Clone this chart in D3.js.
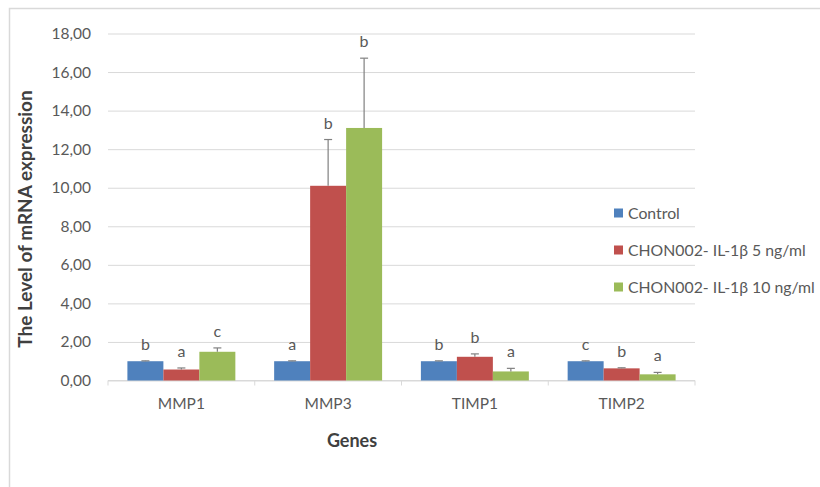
<!DOCTYPE html>
<html>
<head>
<meta charset="utf-8">
<script src="https://cdn.jsdelivr.net/npm/d3@7"></script>
<style>
  body { margin: 0; background: #fff; }
  text { font-family: Lato, "Open Sans", sans-serif; }
</style>
</head>
<body>
<svg width="820" height="487"></svg>
<script>
// data
const genes = ["MMP1", "MMP3", "TIMP1", "TIMP2"];
const seriesNames = ["Control", "CHON002- IL-1\u03b2 5 ng/ml", "CHON002- IL-1\u03b2 10 ng/ml"];
const seriesColors = ["#4f81bd", "#c0504d", "#9bbb59"];
const controlVals = [1.00, 1.00, 1.00, 1.00];
const il5Vals = [0.57, 10.10, 1.23, 0.63];
const il10Vals = [1.49, 13.10, 0.47, 0.32];
const controlErr = [0.02, 0.02, 0.02, 0.02];
const il5Err = [0.08, 2.40, 0.15, 0.03];
const il10Err = [0.20, 3.62, 0.16, 0.10];
const controlLetters = ["b", "a", "b", "c"];
const il5Letters = ["a", "b", "b", "b"];
const il10Letters = ["c", "b", "a", "a"];
const yTicks = [0, 2, 4, 6, 8, 10, 12, 14, 16, 18];

let svg = d3.select("svg");

// outer chart border, cut off at right and bottom
svg.append("path")
    .attr("d", "M9.5,490 V8.5 H825")
    .attr("fill", "none")
    .attr("stroke", "#d9d9d9")
    .attr("stroke-width", 1.5);

let plotL = 108, plotR = 695, plotT = 33.5, plotB = 380.5;

let x = d3.scaleBand().domain(genes).range([plotL, plotR]).paddingInner(0).paddingOuter(0);
let inner = d3.scaleBand().domain([0, 1, 2]).range([19.4, x.bandwidth() - 19.4]);
let y = d3.scaleLinear().domain([0, 18]).range([plotB, plotT]);

let fmt = d => d.toFixed(2).replace(".", ",");

// gridlines + y labels
let yAxis = svg.append("g")
    .attr("transform", `translate(${plotL},0)`)
    .call(d3.axisLeft(y).tickValues(yTicks).tickSize(-(plotR - plotL)).tickFormat(fmt).tickPadding(17));
yAxis.select(".domain").remove();
yAxis.selectAll(".tick line").attr("stroke", "#d9d9d9");
yAxis.selectAll(".tick text")
    .attr("fill", "#595959")
    .style("font-size", "15.5px");

// category axis
let xAxis = svg.append("g")
    .attr("transform", `translate(0,${plotB})`)
    .call(d3.axisBottom(x).tickSize(0).tickPadding(17));
xAxis.select(".domain").attr("stroke", "#d9d9d9").attr("d", `M${plotL},0H${plotR}`);
xAxis.selectAll(".tick text").attr("fill", "#595959").style("font-size", "15.5px");
xAxis.selectAll(".sep")
    .data(genes.map((g, i) => i).concat([genes.length]))
    .enter().append("line")
    .attr("x1", i => plotL + i * x.bandwidth())
    .attr("x2", i => plotL + i * x.bandwidth())
    .attr("y1", 0).attr("y2", 5)
    .attr("stroke", "#d9d9d9");

let allVals = [controlVals, il5Vals, il10Vals];
let allErr = [controlErr, il5Err, il10Err];
let allLetters = [controlLetters, il5Letters, il10Letters];

let bars = [];
genes.forEach((g, gi) => {
    allVals.forEach((vals, si) => {
        bars.push({gene: g, s: si, v: vals[gi], e: allErr[si][gi], letter: allLetters[si][gi]});
    });
});

let cx = d => x(d.gene) + inner(d.s) + inner.bandwidth() / 2;

svg.append("g").selectAll("rect")
    .data(bars)
    .enter().append("rect")
    .attr("x", d => x(d.gene) + inner(d.s))
    .attr("width", inner.bandwidth())
    .attr("y", d => y(d.v))
    .attr("height", d => y(0) - y(d.v))
    .attr("fill", d => seriesColors[d.s]);

// error bars (upper only)
let err = svg.append("g").attr("stroke", "#808080").attr("stroke-width", 1.2);
err.selectAll(".stem")
    .data(bars)
    .enter().append("line")
    .attr("x1", cx).attr("x2", cx)
    .attr("y1", d => y(d.v))
    .attr("y2", d => y(d.v + d.e));
err.selectAll(".cap")
    .data(bars)
    .enter().append("line")
    .attr("x1", d => cx(d) - 4).attr("x2", d => cx(d) + 4)
    .attr("y1", d => y(d.v + d.e))
    .attr("y2", d => y(d.v + d.e));

// significance letters
svg.append("g").selectAll("text")
    .data(bars)
    .enter().append("text")
    .attr("x", cx)
    .attr("y", d => y(d.v + d.e) - 11)
    .attr("text-anchor", "middle")
    .attr("fill", "#595959")
    .style("font-size", "16px")
    .text(d => d.letter);

// axis titles
svg.append("text")
    .attr("transform", "translate(32,219) rotate(-90)")
    .attr("text-anchor", "middle")
    .attr("fill", "#404040")
    .style("font-size", "19px")
    .style("font-weight", "bold")
    .text("The Level of mRNA expression");

svg.append("text")
    .attr("x", 352)
    .attr("y", 447)
    .attr("text-anchor", "middle")
    .attr("fill", "#404040")
    .style("font-size", "18px")
    .style("font-weight", "bold")
    .text("Genes");

// legend
let legend = svg.append("g").selectAll("g")
    .data(seriesNames)
    .enter().append("g")
    .attr("transform", (d, i) => `translate(614,${213 + i * 37})`);
legend.append("rect")
    .attr("x", 0).attr("y", -4.5)
    .attr("width", 9).attr("height", 9)
    .attr("fill", (d, i) => seriesColors[i]);
legend.append("text")
    .attr("x", 14).attr("y", 5.5)
    .attr("fill", "#595959")
    .style("font-size", "15.8px")
    .text(d => d);
</script>
</body>
</html>
